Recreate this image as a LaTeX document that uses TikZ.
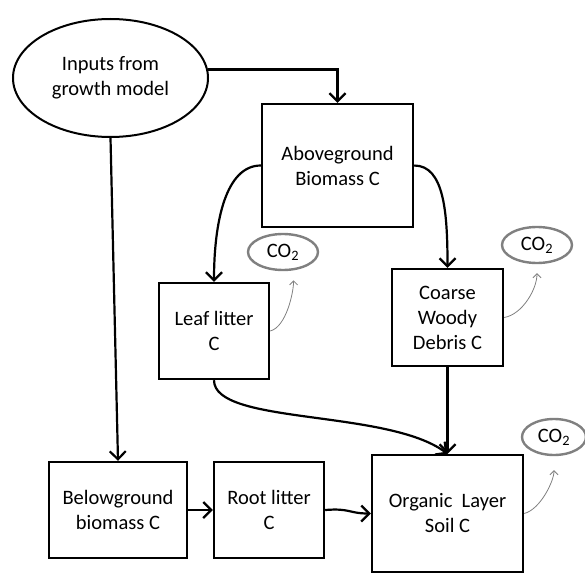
\documentclass[tikz,border=0pt]{standalone}
\usepackage{fontspec}
\setmainfont{Carlito}
\usetikzlibrary{arrows.meta,shapes.geometric}
\tikzset{
  box/.style={draw, line width=2.4bp, align=center, inner sep=0pt},
  inputs/.style={draw, ellipse, line width=2bp, align=center, inner sep=0pt,
    minimum width=195bp, minimum height=118bp},
  co2/.style={draw=gray, ellipse, line width=2.4bp, inner sep=0pt,
    minimum width=70bp, minimum height=36bp},
  flow/.style={line width=2.2bp, -{Straight Barb[length=8bp,width=16bp]}},
  vent/.style={draw=gray, line width=0.8bp, -{Straight Barb[length=4bp,width=8bp]}},
}
\begin{document}
\begin{tikzpicture}[x=1bp, y=-1bp, font=\fontsize{20.5bp}{25bp}\selectfont]
\useasboundingbox (0,0) rectangle (585,573);
% pools
\node[inputs] (inputs) at (110.5,78) {Inputs from\\growth model};
\node[box, minimum width=151bp, minimum height=123bp] (above) at (337.5,165.5) {Aboveground\\Biomass C};
\node[box, minimum width=110bp, minimum height=96bp] (leaf) at (214,331) {Leaf litter\\C};
\node[box, minimum width=111bp, minimum height=97bp] (coarse) at (447.5,317.5) {Coarse\\Woody\\Debris C};
\node[box, minimum width=138bp, minimum height=96bp] (below) at (118,510) {Belowground\\biomass C};
\node[box, minimum width=110bp, minimum height=96bp] (root) at (269,510) {Root litter\\C};
\node[box, minimum width=151bp, minimum height=117bp] (organic) at (447.5,513.5) {Organic\ \ Layer\\Soil C};
% respiration
\node[co2] (co2a) at (283,252) {CO\textsubscript{2}};
\node[co2] (co2b) at (537,245) {CO\textsubscript{2}};
\node[co2, minimum width=64bp] (co2c) at (554,437) {CO\textsubscript{2}};
% fluxes
\draw[flow] (inputs.5) -| (above.north);
\draw[flow] (inputs.south) -- (below.north);
\draw[flow] (above.west) .. controls +(-35,0) and +(0,-60) .. (leaf.north);
\draw[flow] (above.east) .. controls +(30,0) and +(0,-55) .. (coarse.north);
\draw[flow] (leaf.south) .. controls +(0,45) and +(-60,-45) .. (organic.north);
\draw[flow] (coarse.south) -- (organic.north);
\draw[flow] (below.east) -- (root.west);
\draw[flow] (root.east) .. controls +(25,-2) and +(-22,0) .. (organic.west);
\draw[vent, shorten >=10bp] (leaf.east) .. controls +(16,-4) and +(0,22) .. (co2a.-60);
\draw[vent, shorten >=9bp] (coarse.east) .. controls +(18,-3) and +(0,25) .. (co2b.south);
\draw[vent, shorten >=14bp] (organic.east) .. controls +(16,-4) and +(0,25) .. (co2c.south);
\end{tikzpicture}
\end{document}
